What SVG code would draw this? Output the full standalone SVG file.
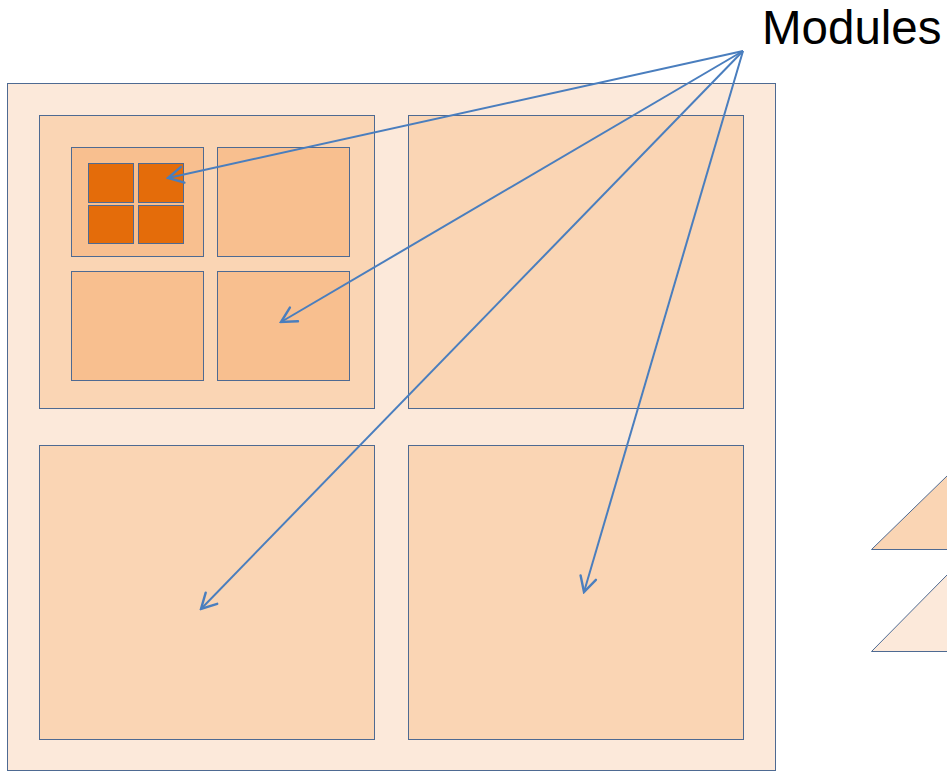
<svg xmlns="http://www.w3.org/2000/svg" width="947" height="771" viewBox="0 0 947 771">
  <style>
    .box { stroke: #4E6A92; stroke-width: 1; }
    .outer { fill: #FCE9DA; }
    .quad { fill: #FAD5B4; }
    .sub { fill: #F8BF8F; }
    .mod { fill: #E46C0A; }
    .link { stroke: #4A7EBE; stroke-width: 2; fill: none; marker-end: url(#arrow); }
    .label { font-family: "Liberation Sans", Arial, sans-serif; font-size: 47.5px; fill: #000; }
  </style>
  <defs>
    <marker id="arrow" viewBox="0 0 20 20" refX="18" refY="10" markerWidth="20" markerHeight="20" markerUnits="userSpaceOnUse" orient="auto">
      <polyline points="3,2 18,10 3,18" fill="none" stroke="#4A7EBE" stroke-width="2.4" stroke-linecap="round" stroke-linejoin="miter"/>
    </marker>
  </defs>

  <rect width="947" height="771" fill="#FFFFFF"/>

  <g id="chip">
    <rect class="box outer" x="7.5" y="83.5" width="768" height="687"/>
  </g>
  <g id="quad-tl">
    <rect class="box quad" x="39.5" y="115.5" width="335" height="293"/>
  </g>
  <g id="quad-tr">
    <rect class="box quad" x="408.5" y="115.5" width="335" height="293"/>
  </g>
  <g id="quad-bl">
    <rect class="box quad" x="39.5" y="445.5" width="335" height="294"/>
  </g>
  <g id="quad-br">
    <rect class="box quad" x="408.5" y="445.5" width="335" height="294"/>
  </g>
  <g id="sub-tl">
    <rect class="box sub" x="71.5" y="147.5" width="132" height="109"/>
  </g>
  <g id="sub-tr">
    <rect class="box sub" x="217.5" y="147.5" width="132" height="109"/>
  </g>
  <g id="sub-bl">
    <rect class="box sub" x="71.5" y="271.5" width="132" height="109"/>
  </g>
  <g id="sub-br">
    <rect class="box sub" x="217.5" y="271.5" width="132" height="109"/>
  </g>
  <g id="mod-1"><rect class="box mod" x="88.5" y="163.5" width="45" height="39"/></g>
  <g id="mod-2"><rect class="box mod" x="138.5" y="163.5" width="45" height="39"/></g>
  <g id="mod-3"><rect class="box mod" x="88.5" y="205.5" width="45" height="38"/></g>
  <g id="mod-4"><rect class="box mod" x="138.5" y="205.5" width="45" height="38"/></g>

  <!-- legend wedges at the right edge -->
  <g id="legend-quad">
    <polygon class="box quad" points="871.5,549.5 947.5,475.5 960,475.5 960,549.5"/>
  </g>
  <g id="legend-chip">
    <polygon class="box outer" points="871.5,651.5 947.5,574.5 960,574.5 960,651.5"/>
  </g>

  <g id="label-modules">
    <text class="label" x="762" y="44">Modules</text>
  </g>

  <g id="connectors">
    <line class="link" x1="743" y1="51" x2="168" y2="178"/>
    <line class="link" x1="743" y1="51" x2="281" y2="322"/>
    <line class="link" x1="743" y1="51" x2="201" y2="609"/>
    <line class="link" x1="743" y1="51" x2="584" y2="592"/>
  </g>
</svg>
